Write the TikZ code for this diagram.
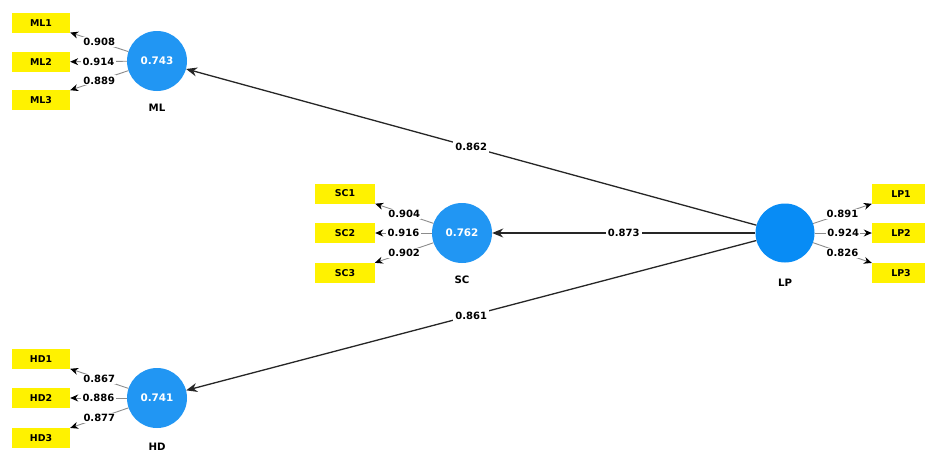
\documentclass[tikz,border=0pt]{standalone}
\usepackage{fontspec}
\setmainfont{DejaVu Sans}
\usetikzlibrary{arrows.meta}
\definecolor{latentblue}{RGB}{33,150,243}
\definecolor{latentdeep}{RGB}{8,140,245}
\definecolor{itemyellow}{RGB}{255,242,0}
\begin{document}
\begin{tikzpicture}[x=1pt,y=-1pt,
  latent/.style={circle, fill=latentblue, minimum size=60pt, inner sep=0pt,
    text=white, font=\fontsize{10.4}{12}\selectfont\bfseries},
  indicator/.style={rectangle, fill=itemyellow, minimum width=58pt, minimum height=20pt,
    inner sep=0pt, font=\fontsize{9.4}{11}\selectfont\bfseries},
  loading/.style={draw=black!45, line width=0.9pt, -{Stealth[black,length=8pt,width=7pt]}},
  structural/.style={draw=black!85, line width=1.3pt, -{Stealth[length=11pt,width=9pt]}},
  coef/.style={fill=white, inner sep=1.2pt, font=\fontsize{10}{12}\selectfont\bfseries},
  latentname/.style={font=\fontsize{10.2}{12}\selectfont\bfseries}
]
\clip (0,0) rectangle (925,456);
\fill[white] (0,0) rectangle (925,456);

% latent variables
\node[latent] (ML) at (157,61) {0.743};
\node[latent] (SC) at (462,233) {0.762};
\node[latent] (HD) at (157,398) {0.741};
\node[latent, fill=latentdeep, minimum size=59pt] (LP) at (785,233) {};

\node[latentname] (MLname) at (157,108) {ML};
\node[latentname] (SCname) at (462,280) {SC};
\node[latentname] (HDname) at (157,447) {HD};
\node[latentname] (LPname) at (785,283) {LP};

% indicators
\node[indicator] (ML1) at (41,23) {ML1};
\node[indicator] (ML2) at (41,62) {ML2};
\node[indicator] (ML3) at (41,100) {ML3};
\node[indicator, minimum width=60pt] (SC1) at (345,193.5) {SC1};
\node[indicator, minimum width=60pt] (SC2) at (345,233) {SC2};
\node[indicator, minimum width=60pt] (SC3) at (345,273) {SC3};
\node[indicator] (HD1) at (41,359) {HD1};
\node[indicator] (HD2) at (41,398) {HD2};
\node[indicator] (HD3) at (41,438) {HD3};
\node[indicator] (LP1) at (901,194) {LP1};
\node[indicator] (LP2) at (901,233) {LP2};
\node[indicator] (LP3) at (901,273) {LP3};

% outer loadings
\draw[loading] (ML) -- node[coef] {0.908} (ML1);
\draw[loading] (ML) -- node[coef] {0.914} (ML2);
\draw[loading] (ML) -- node[coef] {0.889} (ML3);
\draw[loading] (SC) -- node[coef] {0.904} (SC1);
\draw[loading] (SC) -- node[coef] {0.916} (SC2);
\draw[loading] (SC) -- node[coef] {0.902} (SC3);
\draw[loading] (HD) -- node[coef] {0.867} (HD1);
\draw[loading] (HD) -- node[coef] {0.886} (HD2);
\draw[loading] (HD) -- node[coef] {0.877} (HD3);
\draw[loading] (LP) -- node[coef] {0.891} (LP1);
\draw[loading] (LP) -- node[coef] {0.924} (LP2);
\draw[loading] (LP) -- node[coef] {0.826} (LP3);

% path coefficients
\draw[structural] (LP) -- node[coef, inner sep=2pt] {0.862} (ML);
\draw[structural] (LP) -- node[coef, inner sep=2pt] {0.873} (SC);
\draw[structural] (LP) -- node[coef, inner sep=2pt] {0.861} (HD);
\end{tikzpicture}
\end{document}
